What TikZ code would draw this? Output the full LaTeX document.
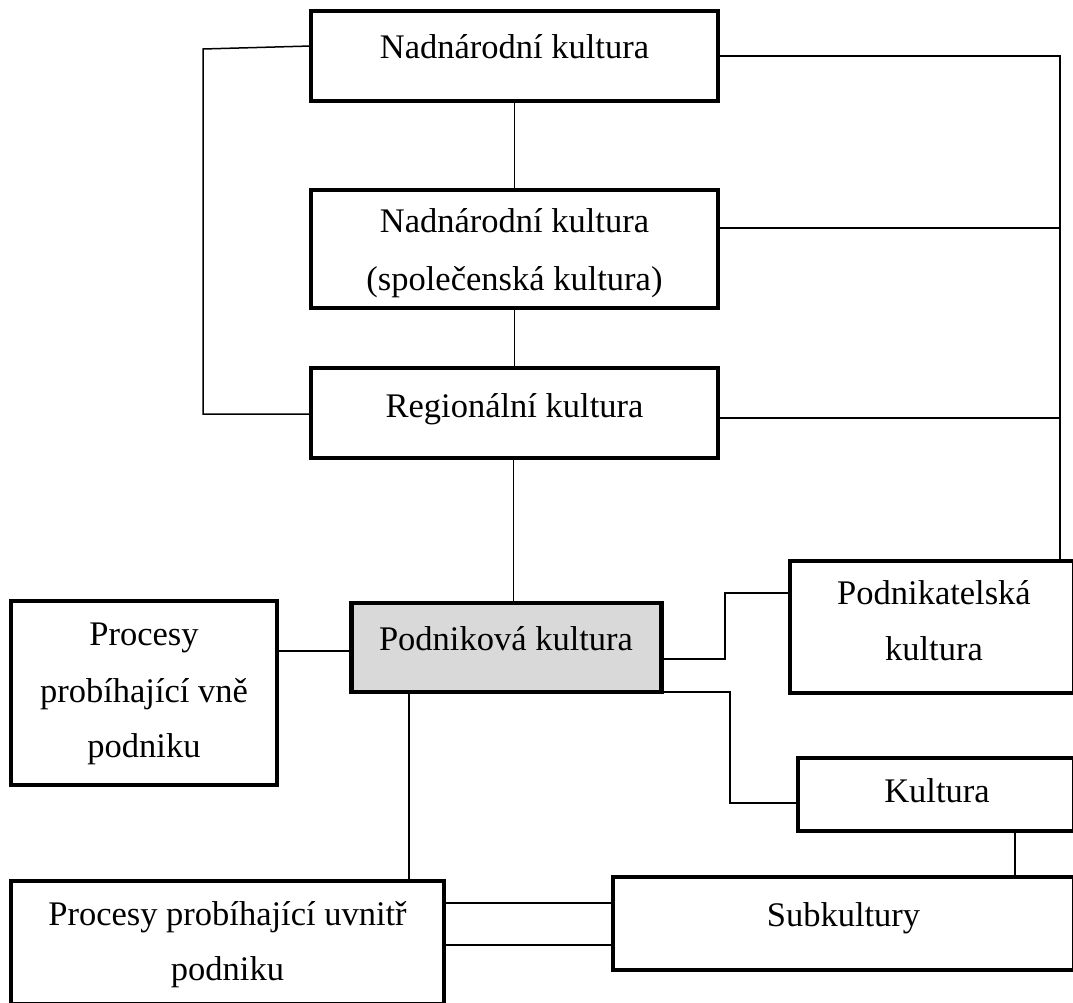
\documentclass[tikz,border=0pt]{standalone}
\usepackage{fontspec}
\setmainfont{Liberation Serif}
\definecolor{boxgray}{HTML}{D9D9D9}
\tikzset{
  box/.style={draw=black, line width=4.5pt, line join=miter, rectangle, inner sep=0pt, outer sep=0pt},
  link/.style={draw=black, line width=1.5pt},
  lbl/.style={anchor=base, inner sep=0pt, outer sep=0pt, font=\fontsize{34.5}{57}\selectfont},
}
\begin{document}
\begin{tikzpicture}[x=1pt,y=-1pt]
\useasboundingbox (0,0) rectangle (1073,1003);
\clip (0,0) rectangle (1073,1003);

% boxes
\node[box, minimum width=407pt, minimum height=90pt] (b1) at (514.5,56) {};
\node[box, minimum width=407pt, minimum height=118pt] (b2) at (514.5,249) {};
\node[box, minimum width=407pt, minimum height=90pt] (b3) at (514.5,413) {};
\node[box, fill=boxgray, minimum width=310pt, minimum height=89pt] (pk) at (506.5,647.5) {};
\node[box, minimum width=266pt, minimum height=184pt] (pv) at (144,693) {};
\node[box, minimum width=284pt, minimum height=132pt] (pe) at (932,627) {};
\node[box, minimum width=276pt, minimum height=73pt] (ku) at (936,794.5) {};
\node[box, minimum width=461pt, minimum height=93pt] (sb) at (843.5,923.5) {};
\node[box, minimum width=433pt, minimum height=123pt] (pi) at (227.5,942.5) {};

% texts
\node[lbl] (t1) at (514.5,59) {Nadnárodní kultura};
\node[lbl] (t2a) at (514.5,233) {Nadnárodní kultura};
\node[lbl] (t2b) at (514.5,290) {(společenská kultura)};
\node[lbl] (t3) at (514.5,417) {Regionální kultura};
\node[lbl] (tpk) at (506,650) {Podniková kultura};
\node[lbl] (tpv1) at (144,645) {Procesy};
\node[lbl] (tpv2) at (144,702) {probíhající vně};
\node[lbl] (tpv3) at (144,757) {podniku};
\node[lbl] (tpe1) at (934,604) {Podnikatelská};
\node[lbl] (tpe2) at (934,660) {kultura};
\node[lbl] (tku) at (937,802) {Kultura};
\node[lbl] (tsb) at (843.5,926) {Subkultury};
\node[lbl] (tpi1) at (227.5,925) {Procesy probíhající uvnitř};
\node[lbl] (tpi2) at (227.5,980) {podniku};

% left bracket
\coordinate (L1) at (203,49);
\coordinate (L2) at (203,414);
\draw[link] ([yshift=10pt]b1.west) -- (L1) -- (L2) -- (L2 -| b3.west);

% right bus
\coordinate (R1) at (1060,0);
\draw[link] (b1.east) -- (b1.east -| R1) -- (R1 |- pe.north);
\coordinate (b2r) at ([yshift=21pt]b2.east);
\draw[link] (b2r) -- (b2r -| R1);
\coordinate (b3r) at ([yshift=-5pt]b3.east);
\draw[link] (b3r) -- (b3r -| R1);

% central spine
\draw[link] (b1.south) -- (b2.north);
\draw[link] (b2.south) -- (b3.north);
\coordinate (b3b) at ([xshift=-1pt]b3.south);
\draw[link] (b3b) -- (b3b |- pk.north);

% Podnikova links
\coordinate (pkl) at ([yshift=-3.5pt]pk.west);
\draw[link] (pv.east |- pkl) -- (pkl);
\coordinate (pkr) at ([yshift=-11.5pt]pk.east);
\coordinate (pel) at ([yshift=34pt]pe.west);
\coordinate (J1) at (725,0);
\draw[link] (pkr) -- (pkr -| J1) -- (J1 |- pel) -- (pel);
\coordinate (kul) at ([yshift=-8.5pt]ku.west);
\coordinate (J2) at (730,0);
\draw[link] (pk.south east) -- (pk.south east -| J2) -- (J2 |- kul) -- (kul);
\coordinate (pkb) at ([xshift=-97.5pt]pk.south);
\draw[link] (pkb) -- (pkb |- pi.north);

% bottom links
\coordinate (kub) at ([xshift=79pt]ku.south);
\draw[link] (kub) -- (kub |- sb.north);
\coordinate (s1) at ([yshift=20.5pt]sb.west);
\coordinate (s2) at ([yshift=-21.5pt]sb.west);
\draw[link] (s1 -| pi.east) -- (s1);
\draw[link] (s2 -| pi.east) -- (s2);
\end{tikzpicture}
\end{document}
